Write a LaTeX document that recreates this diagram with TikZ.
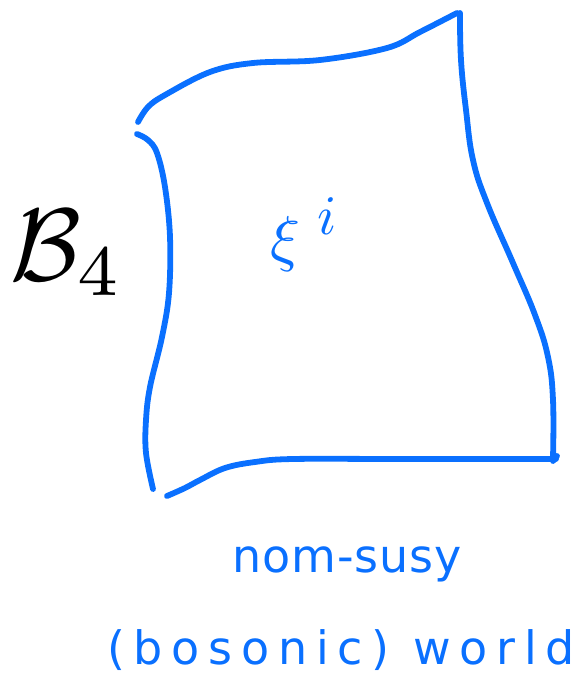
\documentclass[tikz,border=0pt]{standalone}
\usepackage{fontspec}
\usepackage{graphicx}
\newfontfamily\handfont{DejaVu Sans}
\definecolor{pen}{RGB}{10,112,255}
\tikzset{
  stroke/.style={draw=pen, line width=5.8pt, line cap=round, line join=round},
  hand/.style={text=pen, inner sep=0pt, font=\handfont\fontsize{46}{50}\selectfont}
}
\begin{document}
\begin{tikzpicture}[x=1pt,y=-1pt]
\useasboundingbox (0,0) rectangle (580,677);
% top edge
\draw[stroke] plot[smooth, tension=0.6] coordinates {(138,122) (148,107) (165,95) (210,72) (253,63) (320,60) (387,48) (420,32) (457,13)};
% right edge
\draw[stroke] plot[smooth, tension=0.7] coordinates {(460,13) (461,60) (466,110) (473,160) (487,203) (513,263) (535,315) (548,357) (553,400) (553,458)};
\draw[stroke] (553,461) -- (557,456);
% bottom edge
\draw[stroke] plot[smooth, tension=0.6] coordinates {(556,459) (400,459) (293,459) (255,462) (225,468) (200,480) (185,488) (167,496)};
% left edge
\draw[stroke] plot[smooth, tension=0.6] coordinates {(137,134) (148,140) (157,153) (165,187) (170,237) (169,293) (162,337) (150,387) (146,420) (146,453) (153,489)};
% labels
\node[anchor=base west, inner sep=0pt] (B) at (10,280) {\fontsize{10}{10}\selectfont\scalebox{10.3}{$\mathcal{B}_4$}};
\node[anchor=base west, inner sep=0pt, text=pen] (xi) at (270,259) {\fontsize{10}{10}\selectfont\scalebox{6.2}{$\xi\hspace{2.8pt}\raisebox{4pt}{\scalebox{0.9}{$i$}}$}};
\node[hand, anchor=base] (l1) at (347,572) {\addfontfeatures{LetterSpace=2}nom-susy};
\node[hand, anchor=base] (l2) at (341,664) {\addfontfeatures{LetterSpace=19}(bosonic) world};
\end{tikzpicture}
\end{document}
